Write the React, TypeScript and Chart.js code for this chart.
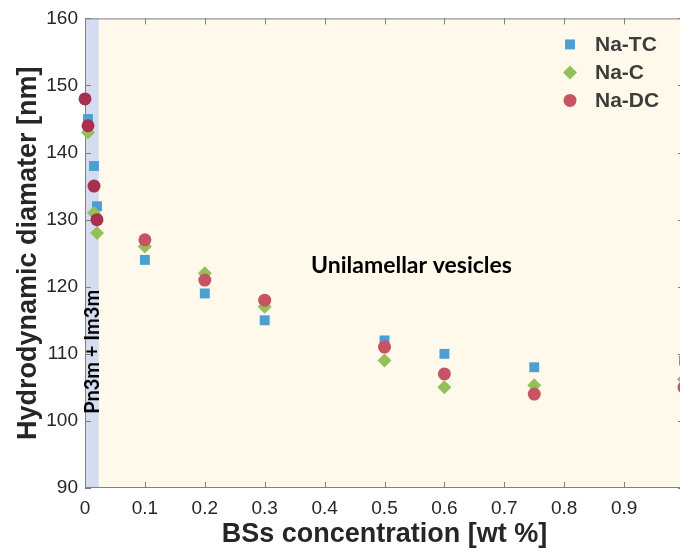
import React, { useEffect, useRef } from "react";
import { Chart, registerables } from "chart.js";

Chart.register(...registerables);

const xTicks = [0, 0.1, 0.2, 0.3, 0.4, 0.5, 0.6, 0.7, 0.8, 0.9, 1];
const yTicks = [90, 100, 110, 120, 130, 140, 150, 160];

const naTCx = [0.005, 0.015, 0.02, 0.1, 0.2, 0.3, 0.5, 0.6, 0.75, 1.0];
const naTCy = [145, 138, 132, 124, 119, 115, 112, 110, 108, 109];

const naCx = [0.005, 0.015, 0.02, 0.1, 0.2, 0.3, 0.5, 0.6, 0.75, 1.0];
const naCy = [143, 131, 128, 126, 122, 117, 109, 105, 105.3, 106.2];

const naDCx = [0, 0.005, 0.015, 0.02, 0.1, 0.2, 0.3, 0.5, 0.6, 0.75, 1.0];
const naDCy = [148, 144, 135, 130, 127, 121, 118, 111, 107, 104, 105];

const seriesNames = ["Na-TC", "Na-C", "Na-DC"];
const bandEnd = 0.023;

const BLUE = "#4b9fd3";
const GREEN = "#93c05a";
const RED = "#c65462";
const RED_DARK = "#a8304f";

const zip = (xs: number[], ys: number[]) => xs.map((x, i) => ({ x, y: ys[i] }));

const W = 700;
const H = 552;

function drawMarker(ctx: CanvasRenderingContext2D, style: string, x: number, y: number, r: number, color: string) {
  ctx.save();
  ctx.fillStyle = color;
  ctx.beginPath();
  if (style === "rect") {
    const s = Math.SQRT1_2 * r;
    ctx.rect(x - s, y - s, 2 * s, 2 * s);
  } else if (style === "rectRot") {
    ctx.moveTo(x - r, y);
    ctx.lineTo(x, y - r);
    ctx.lineTo(x + r, y);
    ctx.lineTo(x, y + r);
    ctx.closePath();
  } else {
    ctx.arc(x, y, r, 0, Math.PI * 2);
  }
  ctx.fill();
  ctx.restore();
}

const decorPlugin = {
  id: "decor",
  beforeDatasetsDraw(chart: any) {
    const { ctx, chartArea: a, scales } = chart;
    const xs = scales.x;
    const ys = scales.y;
    ctx.save();
    ctx.fillStyle = "#fef9eb";
    ctx.fillRect(a.left, a.top, a.right - a.left, a.bottom - a.top);
    const bx = xs.getPixelForValue(bandEnd);
    ctx.fillStyle = "#d5dcf1";
    ctx.fillRect(a.left, a.top, bx - a.left, a.bottom - a.top);

    // frame
    ctx.strokeStyle = "#808080";
    ctx.lineWidth = 1;
    ctx.strokeRect(a.left + 0.5, a.top + 0.5, a.right - a.left - 1, a.bottom - a.top - 1);
    // inward ticks
    ctx.beginPath();
    const tl = 6;
    xTicks.forEach((v) => {
      const px = Math.round(xs.getPixelForValue(v)) + 0.5;
      ctx.moveTo(px, a.bottom);
      ctx.lineTo(px, a.bottom - tl);
      ctx.moveTo(px, a.top);
      ctx.lineTo(px, a.top + tl);
    });
    yTicks.forEach((v) => {
      const py = Math.round(ys.getPixelForValue(v)) + 0.5;
      ctx.moveTo(a.left, py);
      ctx.lineTo(a.left + tl, py);
      ctx.moveTo(a.right, py);
      ctx.lineTo(a.right - tl, py);
    });
    ctx.stroke();

    // annotations
    ctx.fillStyle = "#000";
    ctx.font = "bold 23px Lato, 'Open Sans', sans-serif";
    ctx.textAlign = "center";
    ctx.textBaseline = "middle";
    ctx.fillText("Unilamellar vesicles", xs.getPixelForValue(0.545), ys.getPixelForValue(123.2));

    ctx.save();
    ctx.translate(xs.getPixelForValue(bandEnd / 2), ys.getPixelForValue(110.3));
    ctx.rotate(-Math.PI / 2);
    ctx.font = "bold 20px Lato, 'Open Sans', sans-serif";
    ctx.fillText("Pn3m + Im3m", 0, 1);
    ctx.restore();
    ctx.restore();
  },
  afterDatasetsDraw(chart: any) {
    const { ctx, chartArea: a } = chart;
    const styles = ["rect", "rectRot", "circle"];
    const colors = [BLUE, GREEN, RED];
    const radii = [7, 7, 6.5];
    ctx.save();
    ctx.font = "bold 21px 'Liberation Sans', Arial, sans-serif";
    ctx.fillStyle = "#3c3c3c";
    ctx.textAlign = "left";
    ctx.textBaseline = "middle";
    seriesNames.forEach((name, i) => {
      const y = a.top + 26 + i * 28;
      drawMarker(ctx, styles[i], 570, y, radii[i], colors[i]);
      ctx.fillText(name, 595, y + 1);
    });
    ctx.restore();
  },
};

export default function App() {
  const ref = useRef<HTMLCanvasElement>(null);
  useEffect(() => {
    const canvas = ref.current!;
    const chart = new Chart(canvas, {
      type: "scatter",
      data: {
        datasets: [
          {
            label: seriesNames[0],
            data: zip(naTCx, naTCy),
            pointStyle: "rect",
            pointRadius: 7,
            backgroundColor: BLUE,
            borderWidth: 0,
            order: 3,
            clip: false,
          },
          {
            label: seriesNames[1],
            data: zip(naCx, naCy),
            pointStyle: "rectRot",
            pointRadius: 7,
            backgroundColor: GREEN,
            borderWidth: 0,
            order: 2,
            clip: false,
          },
          {
            label: seriesNames[2],
            data: zip(naDCx, naDCy),
            pointStyle: "circle",
            pointRadius: 6.5,
            backgroundColor: (c: any) => (c.raw && c.raw.x < bandEnd ? RED_DARK : RED),
            borderWidth: 0,
            order: 1,
            clip: false,
          },
        ],
      },
      options: {
        responsive: false,
        animation: false,
        devicePixelRatio: 1,
        layout: { padding: { top: 18, right: W - 684, left: 0, bottom: 0 } },
        plugins: { legend: { display: false }, tooltip: { enabled: false } },
        scales: {
          x: {
            type: "linear",
            min: 0,
            max: 1,
            afterFit: (s: any) => {
              s.height = H - 488;
            },
            afterBuildTicks: (s: any) => {
              s.ticks = xTicks.map((v) => ({ value: v }));
            },
            grid: { display: false, drawTicks: false },
            border: { display: false },
            ticks: {
              autoSkip: false,
              maxRotation: 0,
              padding: 9,
              color: "#262626",
              font: { family: "'Liberation Sans', Arial, sans-serif", size: 19 },
              callback: (v: any) => String(Math.round(Number(v) * 10) / 10),
            },
            title: {
              display: true,
              text: "BSs concentration [wt %]",
              color: "#262626",
              font: { family: "'Liberation Sans', Arial, sans-serif", size: 27, weight: "bold" },
              padding: { top: 0, bottom: 1 },
            },
          },
          y: {
            type: "linear",
            min: 90,
            max: 160,
            afterFit: (s: any) => {
              s.width = 85;
            },
            afterBuildTicks: (s: any) => {
              s.ticks = yTicks.map((v) => ({ value: v }));
            },
            grid: { display: false, drawTicks: false },
            border: { display: false },
            ticks: {
              autoSkip: false,
              padding: 7,
              color: "#262626",
              font: { family: "'Liberation Sans', Arial, sans-serif", size: 19 },
            },
            title: {
              display: true,
              text: "Hydrodynamic diamater [nm]",
              color: "#262626",
              font: { family: "'Liberation Sans', Arial, sans-serif", size: 27, weight: "bold" },
              padding: { top: 12, bottom: 0 },
            },
          },
        },
      },
      plugins: [decorPlugin],
    } as any);
    return () => chart.destroy();
  }, []);
  return (
    <div
      style={{
        position: "fixed",
        left: 0,
        top: 0,
        width: 680,
        height: 552,
        overflow: "hidden",
        background: "#fff",
      }}
    >
      <canvas ref={ref} width={W} height={H} style={{ width: W, height: H, display: "block" }} />
    </div>
  );
}
